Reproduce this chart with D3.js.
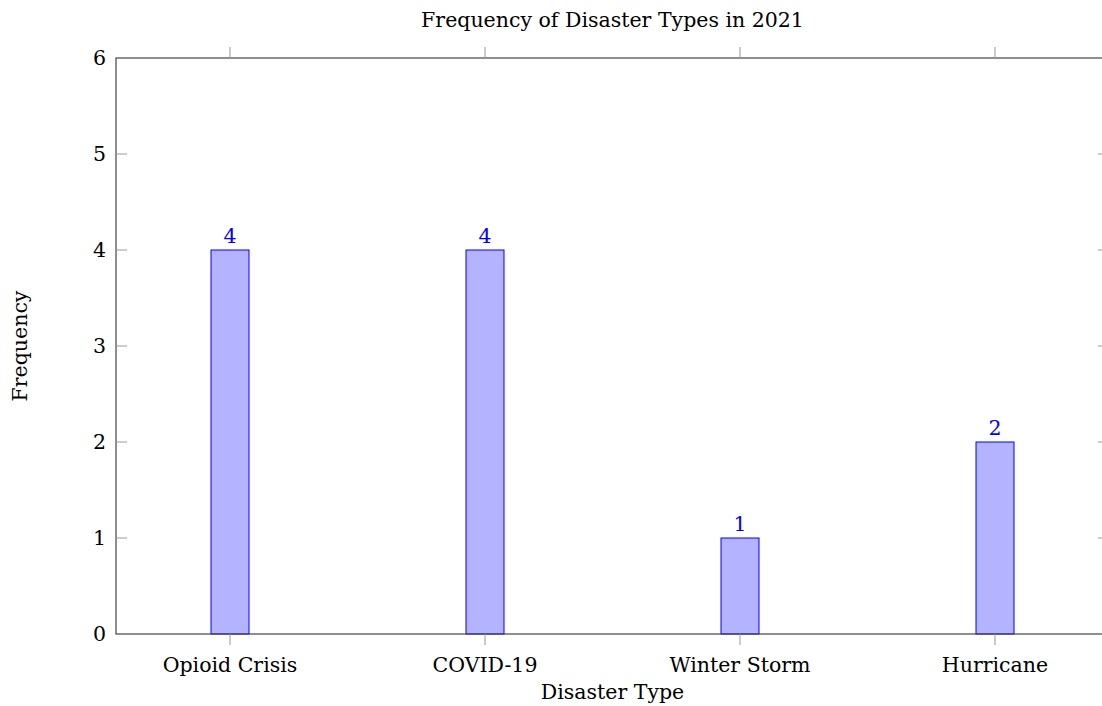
<!DOCTYPE html>
<html><head><meta charset="utf-8">
<script src="https://cdn.jsdelivr.net/npm/d3@7"></script>
<style>body{margin:0;background:#fff;} text{font-family:"DejaVu Serif",serif;}</style>
</head><body>
<svg id="c" width="1102" height="706"></svg>
<script>
const categories = ["Opioid Crisis","COVID-19","Winter Storm","Hurricane"];
const values = [4,4,1,2];
const yTicks = [0,1,2,3,4,5,6];
const title = "Frequency of Disaster Types in 2021";
const xLabel = "Disaster Type";
const yLabel = "Frequency";

const svg = d3.select("#c");
const L = 116, R = 1109, T = 58, B = 634;
const FS = 20.5;
const x = d3.scalePoint().domain(categories).range([230, 995]);
const y = d3.scaleLinear().domain([0,6]).range([B, T]);
const bw = 38;

svg.selectAll("rect.bar").data(values).enter().append("rect")
  .attr("x",(d,i)=>x(categories[i])-bw/2).attr("width",bw)
  .attr("y",d=>y(d)).attr("height",d=>B-y(d))
  .attr("fill","#b3b3ff").attr("stroke","#0000ff").attr("stroke-width",1);

svg.selectAll("text.v").data(values).enter().append("text")
  .attr("x",(d,i)=>x(categories[i])).attr("y",d=>y(d)-7)
  .attr("text-anchor","middle").attr("fill","#0000ff").attr("font-size",FS)
  .text(d=>d);

svg.append("rect").attr("x",L).attr("y",T).attr("width",R-L).attr("height",B-T)
  .attr("fill","none").attr("stroke","#444").attr("stroke-width",1.2);

const tg = svg.append("g");
yTicks.forEach(t=>{
  if(t>0 && t<6){
    tg.append("line").attr("x1",L).attr("x2",L+11).attr("y1",y(t)).attr("y2",y(t)).attr("stroke","#999");
    tg.append("line").attr("x1",R-11).attr("x2",R).attr("y1",y(t)).attr("y2",y(t)).attr("stroke","#999");
  }
  tg.append("text").attr("x",L-10).attr("y",y(t)).attr("dy","0.35em").attr("text-anchor","end")
    .attr("font-size",FS).attr("fill","#000").text(t);
});
categories.forEach(c=>{
  tg.append("line").attr("x1",x(c)).attr("x2",x(c)).attr("y1",B).attr("y2",B+11).attr("stroke","#999");
  tg.append("line").attr("x1",x(c)).attr("x2",x(c)).attr("y1",T).attr("y2",T-11).attr("stroke","#999");
  tg.append("text").attr("x",x(c)).attr("y",B+38).attr("text-anchor","middle")
    .attr("font-size",FS).attr("fill","#000").text(c);
});

svg.append("text").attr("x",(L+R)/2).attr("y",27).attr("text-anchor","middle").attr("font-size",FS).text(title);
svg.append("text").attr("x",(L+R)/2).attr("y",699).attr("text-anchor","middle").attr("font-size",FS).text(xLabel);
svg.append("text").attr("transform",`translate(27,${(T+B)/2}) rotate(-90)`).attr("text-anchor","middle").attr("font-size",FS).text(yLabel);
</script>
</body></html>
